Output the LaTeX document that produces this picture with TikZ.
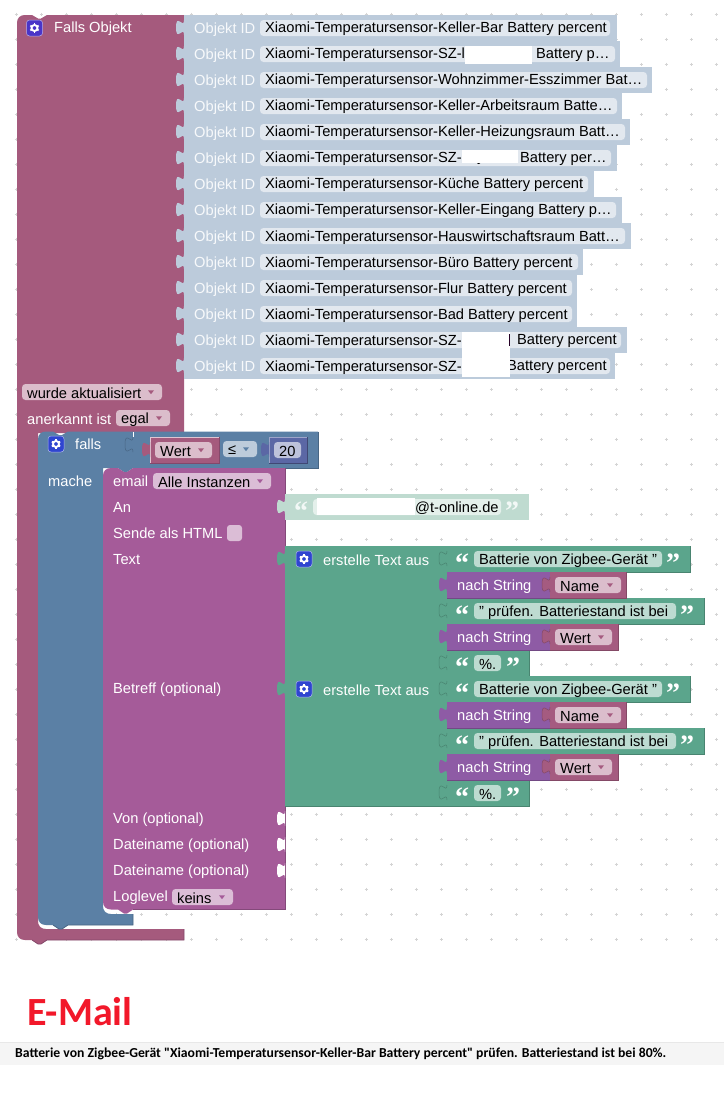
\documentclass[tikz,border=0pt]{standalone}
\usepackage{fontspec}
\setmainfont{Liberation Sans}
\newfontfamily\quotefont{Liberation Serif}
\newfontfamily\mailfont{Carlito}
\definecolor{outerc}{HTML}{A55A7D}
\definecolor{outerd}{HTML}{84486A}
\definecolor{bluec}{HTML}{5B80A5}
\definecolor{blued}{HTML}{486684}
\definecolor{mailc}{HTML}{A55B99}
\definecolor{maild}{HTML}{84497A}
\definecolor{greenc}{HTML}{5BA58C}
\definecolor{greend}{HTML}{498470}
\definecolor{nachc}{HTML}{8E5BA5}
\definecolor{nachd}{HTML}{724984}
\definecolor{varc}{HTML}{A55B80}
\definecolor{vard}{HTML}{844966}
\definecolor{numc}{HTML}{5B67A5}
\definecolor{idc}{HTML}{BCCBDB}
\definecolor{idf}{HTML}{E2E8EF}
\definecolor{mailstr}{HTML}{BFDBD0}
\definecolor{mailstrf}{HTML}{E4F0EB}
\definecolor{varf}{HTML}{DBBDCC}
\definecolor{mailf}{HTML}{DBBDD6}
\definecolor{outerf}{HTML}{DBBDCB}
\definecolor{strf}{HTML}{BDDBD1}
\definecolor{opf}{HTML}{BDCCDB}
\definecolor{numf}{HTML}{BDC2DB}
\definecolor{dotc}{HTML}{D4D4D4}
\definecolor{iconv}{HTML}{4A35C8}
\definecolor{iconb}{HTML}{2F45D0}
\definecolor{titlec}{HTML}{F2182A}
\tikzset{
 lab/.style={anchor=west,inner sep=0pt,yshift=-1pt,font=\fontsize{14.67}{16}\selectfont,text=white},
 labdis/.style={lab,text=white!88!idc},
 val/.style={anchor=west,inner sep=0pt,yshift=-.7pt,font=\fontsize{14.67}{16}\selectfont,text=black},
 fld/.style={rounded corners=3.5pt},
 quot/.style={inner sep=0pt,font=\quotefont\bfseries\fontsize{28}{28}\selectfont,text=white},
}
\newcommand{\tabpath}[2]{(#1,#2+5) .. controls (#1,#2+15) and (#1-8,#2-3) .. (#1-8,#2+12.5) .. controls (#1-8,#2+28) and (#1,#2+10) .. (#1,#2+20)}
\newcommand{\tabfill}[3]{\fill[#3] \tabpath{#1}{#2} -- cycle;}
\newcommand{\drop}[3]{\fill[#3] (#1-3,#2-1.7) -- (#1+3,#2-1.7) -- (#1,#2+2.2) -- cycle;}
\newcommand{\gearicon}[3]{%
 \fill[#3,rounded corners=3pt,draw=white!60!#3,line width=.5pt] (#1-8,#2-8) rectangle (#1+8,#2+8);
 \draw[white,line width=1.9pt] (#1,#2) circle (3);
 \foreach \a in {30,90,...,330}{\draw[white,line width=1.7pt] (#1,#2)++(\a:3.4) -- ++(\a:1.4);}
}
\newcommand{\idrow}[4]{%
 \fill[idc] (184,#1) rectangle (#2,#1+26);
 \tabfill{184}{#1}{idc}
 \node[labdis] (idl#1) at (194,#1+13.5) {Objekt ID};
 \fill[idf,fld] (260,#1+5) rectangle (#3,#1+21);
 \node[val] (idv#1) at (265,#1+13.5) {#4};
}
\newcommand{\joinblock}[1]{%
 \begin{scope}[shift={(0,#1)}]
 \fill[greenc] (285,0) rectangle (447,130);
 \draw[greend,line width=.8pt] (285,130) -- (447,130);
 \tabfill{285}{0}{greenc}
 \gearicon{304}{13}{iconb}
 \node[lab] (joinl#1) at (323,13.5) {erstelle Text aus};
 \fill[greenc] (447,0) rectangle (690,26);
 \draw[greend,line width=.8pt] (447,26) -- (690,26) -- (690,0);
 \tabfill{447}{0}{greenc}
 \draw[greend,line width=.5pt] \tabpath{447}{0};
 \fill[strf,fld] (474,5) rectangle (662,21);
 \node[val] (a#1) at (479,13.5) {Batterie von Zigbee-Gerät "};
 \node[quot] (qa#1) at (462,17) {“};
 \node[quot] (qb#1) at (673,17) {”};
 \fill[greenc] (447,52) rectangle (704,78);
 \draw[greend,line width=.8pt] (447,78) -- (704,78) -- (704,52);
 \tabfill{447}{52}{greenc}
 \draw[greend,line width=.5pt] \tabpath{447}{52};
 \fill[strf,fld] (474,57) rectangle (676,73);
 \node[val] (c#1) at (479,65.5) {" prüfen. Batteriestand ist bei};
 \node[quot] (qc#1) at (462,69) {“};
 \node[quot] (qd#1) at (687,69) {”};
 \fill[greenc] (447,104) rectangle (529,130);
 \draw[greend,line width=.8pt] (447,130) -- (529,130) -- (529,104);
 \tabfill{447}{104}{greenc}
 \draw[greend,line width=.5pt] \tabpath{447}{104};
 \fill[strf,fld] (474,109) rectangle (501,125);
 \node[val] (e#1) at (479,117.5) {\%.};
 \node[quot] (qe#1) at (462,121) {“};
 \node[quot] (qf#1) at (513,121) {”};
 \fill[nachc] (447,26) rectangle (550,52);
 \draw[nachd,line width=.8pt] (447,52) -- (550,52);
 \tabfill{447}{26}{nachc}
 \node[lab] (b#1) at (457,39.5) {nach String};
 \fill[varc] (550,26) rectangle (626,52);
 \draw[vard,line width=.8pt] (550,52) -- (626,52) -- (626,26);
 \tabfill{550}{26}{varc}
 \draw[vard,line width=.5pt] \tabpath{550}{26};
 \fill[varf,fld] (555,31) rectangle (621,47);
 \node[val] (bn#1) at (560,39.5) {Name};
 \drop{610}{39}{varc}
 \fill[nachc] (447,78) rectangle (550,104);
 \draw[nachd,line width=.8pt] (447,104) -- (550,104);
 \tabfill{447}{78}{nachc}
 \node[lab] (d#1) at (457,91.5) {nach String};
 \fill[varc] (550,78) rectangle (618,104);
 \draw[vard,line width=.8pt] (550,104) -- (618,104) -- (618,78);
 \tabfill{550}{78}{varc}
 \draw[vard,line width=.5pt] \tabpath{550}{78};
 \fill[varf,fld] (555,83) rectangle (612,99);
 \node[val] (dn#1) at (560,91.5) {Wert};
 \drop{601}{91}{varc}
 \end{scope}
}
\begin{document}
\begin{tikzpicture}[x=1pt,y=-1pt]
\useasboundingbox (0,0) rectangle (724,1096);
\fill[white] (0,0) rectangle (724,1096);
\foreach \i in {0,...,28}{\foreach \j in {0,...,37}{
 \draw[dotc,line width=.6pt] ({16+25*\i-1.5},{14+25*\j}) -- ++(3,0) ({16+25*\i},{14+25*\j-1.5}) -- ++(0,3);
}}
\fill[outerc] (25,15) -- (32,15) -- (38,18.5) -- (41,18.5) -- (47,15) -- (184,15) -- (184,433) -- (38,433) -- (38,921)
 .. controls (38,926) and (41,929) .. (46,929) -- (184,929) -- (184,940) -- (47,940) -- (41,944) -- (38,944) -- (32,940) -- (25,940)
 .. controls (20,940) and (17,937) .. (17,932) -- (17,23) .. controls (17,18) and (20,15) .. (25,15) -- cycle;
\draw[outerd,line width=.8pt] (184,929) -- (184,940) -- (47,940) -- (41,944) -- (38,944) -- (32,940);
\gearicon{34.5}{28}{iconv}
\node[lab] (falls) at (54,27.5) {Falls Objekt};
\idrow{15}{617}{610}{Xiaomi-Temperatursensor-Keller-Bar Battery percent}
\idrow{41}{620}{615}{Xiaomi-Temperatursensor-SZ-l}
\idrow{67}{652}{647}{Xiaomi-Temperatursensor-Wohnzimmer-Esszimmer Bat…}
\idrow{93}{622}{617}{Xiaomi-Temperatursensor-Keller-Arbeitsraum Batte…}
\idrow{119}{630}{625}{Xiaomi-Temperatursensor-Keller-Heizungsraum Batt…}
\idrow{145}{617}{611}{Xiaomi-Temperatursensor-SZ-}
\idrow{171}{594}{588}{Xiaomi-Temperatursensor-Küche Battery percent}
\idrow{197}{622}{616}{Xiaomi-Temperatursensor-Keller-Eingang Battery p…}
\idrow{223}{631}{625}{Xiaomi-Temperatursensor-Hauswirtschaftsraum Batt…}
\idrow{249}{583}{578}{Xiaomi-Temperatursensor-Büro Battery percent}
\idrow{275}{577}{572}{Xiaomi-Temperatursensor-Flur Battery percent}
\idrow{301}{577}{572}{Xiaomi-Temperatursensor-Bad Battery percent}
\idrow{327}{627}{621}{Xiaomi-Temperatursensor-SZ-}
\idrow{353}{615}{610}{Xiaomi-Temperatursensor-SZ-}
% redactions
\fill[white] (465,46) rectangle (532,64);
\node[val] (r2) at (536,54.5) {Battery p…};
\node[val] (r6y) at (477,158.5) {y};
\fill[white] (462,150) rectangle (518,163);
\node[val] (r6) at (520,158.5) {Battery per…};
\node[val] (r14) at (507,366.5) {Battery percent};
\fill[white] (462,332) rectangle (510,377);
\node[val] (r13) at (517,340.5) {Battery percent};
\fill[black!70!violet] (509,334) rectangle (510.2,346);
% outer rows
\fill[outerf,fld] (22,384) rectangle (162,400);
\node[val] (upd) at (27,392.5) {wurde aktualisiert};
\drop{151}{392}{outerc}
\node[lab] (ack) at (27,418.5) {anerkannt ist};
\fill[outerf,fld] (116,410) rectangle (170,426);
\node[val] (egal) at (121,418.5) {egal};
\drop{159}{418}{outerc}
% if block
\fill[bluec] (46,431.5) -- (53,431.5) -- (59,435) -- (62,435) -- (68,431.5) -- (318,431.5) -- (318,468) -- (133,468) -- (127,472) -- (124,472) -- (118,468) -- (103,468)
 -- (103,906) .. controls (103,911) and (106,914) .. (111,914) -- (133,914) -- (133,925) -- (68,925) -- (62,929) -- (59,929) -- (53,925) -- (46,925)
 .. controls (41,925) and (38,922) .. (38,917) -- (38,439.5) .. controls (38,434.5) and (41,431.5) .. (46,431.5) -- cycle;
\draw[blued,line width=.8pt] (133,914) -- (133,925) -- (68,925) -- (62,929) -- (59,929) -- (53,925);
\draw[blued,line width=.8pt] (133,468) -- (318,468) -- (318,431.5);
\gearicon{56}{444}{iconb}
\node[lab] (ifl) at (75,443.5) {falls};
\node[lab] (mache) at (48,480.5) {mache};
\draw[white,line width=.4pt] (133,432) -- (133,437);
\draw[blued,line width=.5pt] \tabpath{133}{432};
\fill[outerc] (150,437) rectangle (219,463);
\draw[white!65!outerc,line width=.6pt] (150,463) -- (150,437) -- (219,437);
\draw[outerd,line width=.6pt] (150,463) -- (219,463) -- (219,437);
\tabfill{150}{437}{outerc}
\fill[outerf,fld] (155,442) rectangle (212,458);
\node[val] (wert0) at (160,450.5) {Wert};
\drop{201}{450}{outerc}
\fill[opf,fld] (223,441) rectangle (257,457);
\node[val] (op) at (228,449) {≤};
\drop{246}{449}{bluec}
\fill[numc] (269,437) rectangle (307,463);
\draw[white!40!numc,line width=.6pt] (269,463) -- (269,437) -- (307,437);
\draw[numc!70!black,line width=.6pt] (269,463) -- (307,463) -- (307,437);
\tabfill{269}{437}{numc}
\fill[numf,fld] (274,442) rectangle (301,458);
\node[val] (num) at (279,450.5) {20};
% email block
\fill[mailc] (111,468) -- (118,468) -- (124,472) -- (127,472) -- (133,468) -- (285,468) -- (285,909.5) -- (133,909.5) -- (127,913.5) -- (124,913.5) -- (118,909.5) -- (111,909.5)
 .. controls (106,909.5) and (103,906.5) .. (103,901.5) -- (103,476) .. controls (103,471) and (106,468) .. (111,468) -- cycle;
\draw[maild,line width=.8pt] (285,468) -- (285,909.5) -- (133,909.5);
\node[lab] (em) at (113,480.5) {email};
\fill[mailf,fld] (153,473) rectangle (271,489);
\node[val] (inst) at (158,481.5) {Alle Instanzen};
\drop{260}{481}{mailc}
\node[lab] (an) at (113,506.5) {An};
\node[lab] (html) at (113,532.5) {Sende als HTML};
\fill[mailf,rounded corners=3pt] (227,525) rectangle (242,541);
\node[lab] (text) at (113,558.5) {Text};
\node[lab] (betr) at (113,688.5) {Betreff (optional)};
\node[lab] (von) at (113,818.5) {Von (optional)};
\node[lab] (dat1) at (113,844.5) {Dateiname (optional)};
\node[lab] (dat2) at (113,870.5) {Dateiname (optional)};
\node[lab] (logl) at (113,896.5) {Loglevel};
\fill[mailf,fld] (172,889) rectangle (233,905);
\node[val] (keins) at (177,897.5) {keins};
\drop{222}{897}{mailc}
\tabfill{285}{806}{white}
\tabfill{285}{832}{white}
\tabfill{285}{858}{white}
\fill[mailstr] (285,494) rectangle (529,520);
\tabfill{285}{494}{mailstr}
\fill[mailstrf,fld] (313,499) rectangle (501,515);
\fill[white] (317,498) rectangle (415,515);
\node[val] (mail) at (415,507.5) {@t-online.de};
\node[quot,text=white!80!mailstr] (q1) at (301,511) {“};
\node[quot,text=white!80!mailstr] (q2) at (512,511) {”};
\joinblock{546}
\joinblock{676}
\node[anchor=west,inner sep=0pt,text=titlec,font=\mailfont\bfseries\fontsize{40}{40}\selectfont] (title) at (27,1012) {E-Mail};
\fill[black!4] (0,1042) rectangle (724,1065);
\draw[black!9,line width=.8pt] (0,1042.5) -- (724,1042.5);
\node[anchor=west,inner sep=0pt,font=\mailfont\bfseries\fontsize{13.7}{14}\selectfont] (msg) at (15,1054) {Batterie von Zigbee-Gerät "Xiaomi-Temperatursensor-Keller-Bar Battery percent" prüfen. Batteriestand ist bei 80\%.};
\end{tikzpicture}
\end{document}
